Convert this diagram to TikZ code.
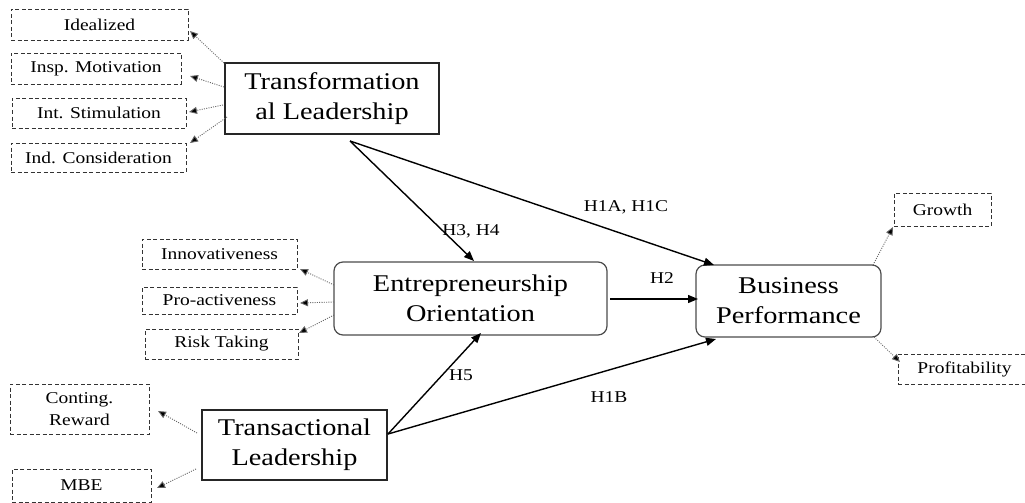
\documentclass[tikz,border=0pt]{standalone}
\usepackage{fontspec}
\setmainfont{Liberation Serif}[FakeStretch=1.18]
\usetikzlibrary{arrows.meta}
\begin{document}
\begin{tikzpicture}[x=1pt,y=-1pt,
  dim/.style={draw=black!80,dashed,dash pattern=on 4pt off 2.5pt,line width=0.9pt,inner sep=0pt,align=center,font=\fontsize{16.5}{22}\selectfont},
  con/.style={draw=black!85,line width=1.2pt,inner sep=0pt,align=center,font=\fontsize{24}{30}\selectfont},
  rcon/.style={con,rounded corners=9pt,draw=black!70},
  hyp/.style={line width=1.4pt,-{Triangle[length=10pt,width=8pt]}},
  ind/.style={draw=black!60,line width=0.9pt,dash pattern=on 1pt off 1.3pt,-{Triangle[length=8pt,width=7pt,fill=black]}},
  lab/.style={font=\fontsize{16.5}{20}\selectfont,inner sep=0pt}]
\useasboundingbox (0,0) rectangle (1025,503);
% indicator boxes
\node[dim,minimum width=177pt,minimum height=31pt] (ideal) at (99.5,24.5) {Idealized};
\node[dim,minimum width=170pt,minimum height=31pt] (insp) at (96,68.5) {Insp. Motivation};
\node[dim,minimum width=174pt,minimum height=30pt] (intst) at (99,113) {Int. Stimulation};
\node[dim,minimum width=175pt,minimum height=29pt] (indc) at (98.5,157.5) {Ind. Consideration};
\node[dim,minimum width=155pt,minimum height=30pt] (innov) at (219.5,254) {Innovativeness};
\node[dim,minimum width=155pt,minimum height=27pt] (proact) at (219.5,300.5) {Pro-activeness};
\node[dim,minimum width=153pt,minimum height=30pt] (risk) at (221.5,344) {Risk Taking};
\node[dim,minimum width=139pt,minimum height=50pt] (conting) at (79.5,409) {Conting.\\Reward};
\node[dim,minimum width=139pt,minimum height=33pt] (mbe) at (81.5,485.5) {MBE};
\node[dim,minimum width=97pt,minimum height=33pt] (growth) at (942.5,209.5) {Growth};
\node[dim,minimum width=133pt,minimum height=30pt] (profit) at (964.5,369) {Profitability};
% constructs
\node[con,minimum width=214pt,minimum height=71pt] (tl) at (332,98.5) {Transformation\\al Leadership};
\node[rcon,minimum width=273pt,minimum height=73pt] (eo) at (470.5,298.5) {Entrepreneurship\\Orientation};
\node[con,minimum width=185pt,minimum height=70pt] (trl) at (294.5,445) {Transactional\\Leadership};
\node[rcon,minimum width=185pt,minimum height=72pt] (bp) at (788.5,301) {Business\\Performance};
% hypothesis arrows
\coordinate (tlout) at (350,141);
\coordinate (eotop) at (474,261);
\coordinate (bptop) at (714,265);
\coordinate (eoright) at (610,299);
\coordinate (bpleft) at (698,299);
\coordinate (trout) at (388,434);
\coordinate (eobot) at (481,333);
\coordinate (bpbot) at (716,339);
\draw[hyp] (tlout) -- (eotop);
\draw[hyp] (tlout) -- (bptop);
\draw[hyp] (eoright) -- (bpleft);
\draw[hyp] (trout) -- (eobot);
\draw[hyp] (trout) -- (bpbot);
\node[lab] (h34) at (471,231) {H3, H4};
\node[lab] (h1ac) at (626,207) {H1A, H1C};
\node[lab] (h2) at (662,278) {H2};
\node[lab] (h5) at (461,375) {H5};
\node[lab] (h1b) at (609,397) {H1B};
% indicator arrows
\coordinate (t1) at (224,63);
\coordinate (t2) at (224,87);
\coordinate (t3) at (223,105);
\coordinate (t4) at (227,117);
\draw[ind] (t1) -- (190,31);
\draw[ind] (t2) -- (190,76);
\draw[ind] (t3) -- (189,112);
\draw[ind] (t4) -- (190,143);
\coordinate (e1) at (334,285);
\coordinate (e2) at (334,302);
\coordinate (e3) at (334,315);
\draw[ind] (e1) -- (300,269);
\draw[ind] (e2) -- (300,303);
\draw[ind] (e3) -- (299,333);
\coordinate (r1) at (197,433);
\coordinate (r2) at (196,469);
\draw[ind] (r1) -- (158,411);
\draw[ind] (r2) -- (157,488);
\coordinate (b1) at (873,265);
\coordinate (b2) at (874,337);
\draw[ind] (b1) -- (893,227);
\draw[ind] (b2) -- (900,362);
\end{tikzpicture}
\end{document}
